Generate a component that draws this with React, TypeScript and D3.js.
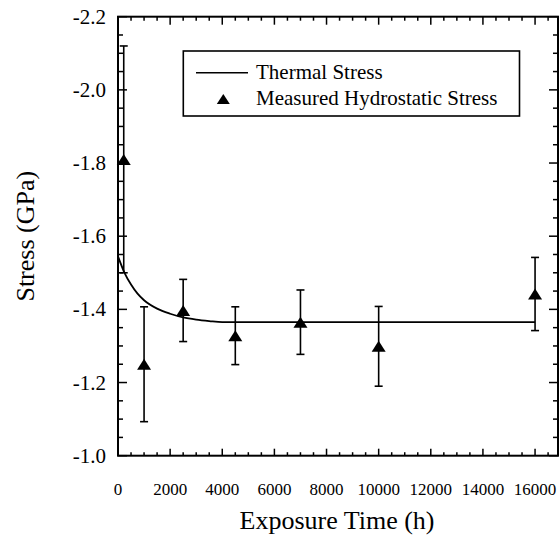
import React from "react";
import * as d3 from "d3";

const measuredTime = [220, 1000, 2500, 4500, 7000, 10000, 16000];
const measuredStress = [-1.81, -1.25, -1.397, -1.328, -1.365, -1.299, -1.442];
const measuredError = [0.31, 0.157, 0.085, 0.079, 0.088, 0.109, 0.1];

const thermalTime = [0, 250, 500, 750, 1000, 1500, 2000, 2500, 3000, 3500, 4000, 16000];
const thermalStress = [-1.545, -1.5, -1.468, -1.443, -1.425, -1.402, -1.388, -1.378, -1.372, -1.368, -1.365, -1.365];

const xTickValues = [0, 2000, 4000, 6000, 8000, 10000, 12000, 14000, 16000];
const yTickValues = [-2.2, -2.0, -1.8, -1.6, -1.4, -1.2, -1.0];

const xLabel = "Exposure Time (h)";
const yLabel = "Stress (GPa)";
const legendLine = "Thermal Stress";
const legendMarker = "Measured Hydrostatic Stress";

const W = 559;
const H = 538;
const left = 118;
const right = 558;
const top = 16.7;
const bottom = 455.7;
const FONT = "Liberation Serif, Times New Roman, Times, DejaVu Serif, serif";

export default function App() {
  const x = d3.scaleLinear().domain([0, 16880]).range([left, right]);
  const y = d3.scaleLinear().domain([-2.2, -1.0]).range([top, bottom]);

  const xMinor = d3.range(0, 16880, 500);
  const yMinor = d3.range(0, 25).map((i) => -2.2 + i * 0.05);

  const thermal = thermalTime.map((t, i) => [t, thermalStress[i]] as [number, number]);
  const line = d3
    .line<[number, number]>()
    .x((d) => x(d[0]))
    .y((d) => y(d[1]))
    .curve(d3.curveMonotoneX);

  const tri = (cx: number, cy: number, w = 14, h = 11) =>
    `M${cx - w / 2},${cy + h / 2} L${cx + w / 2},${cy + h / 2} L${cx},${cy - h / 2} Z`;

  const capW = 4;
  const ts = { fontFamily: FONT } as React.CSSProperties;

  return (
    <svg width={W} height={H} style={{ position: "absolute", left: 0, top: 0, background: "#fff" }}>
      <rect x={0} y={0} width={W} height={H} fill="#fff" />
      <g stroke="#000" strokeWidth={1.5}>
        {xMinor.map((v) => {
          const major = v % 2000 === 0;
          return (
            <g key={"xt" + v}>
              <line x1={x(v)} x2={x(v)} y1={bottom} y2={bottom - (major ? 7 : 3.5)} />
              <line x1={x(v)} x2={x(v)} y1={top} y2={top + (major ? 8 : 4)} />
            </g>
          );
        })}
        {yMinor.map((v, i) => {
          const major = i % 4 === 0;
          return (
            <g key={"yt" + i}>
              <line x1={left} x2={left + (major ? 9 : 5)} y1={y(v)} y2={y(v)} />
              <line x1={right} x2={right - (major ? 9 : 5)} y1={y(v)} y2={y(v)} />
            </g>
          );
        })}
      </g>
      <rect x={left} y={top} width={right - left} height={bottom - top} fill="none" stroke="#000" strokeWidth={2} />
      <path d={line(thermal) || ""} fill="none" stroke="#000" strokeWidth={1.8} />
      <g stroke="#000" strokeWidth={1.6}>
        {measuredTime.map((t, i) => {
          const cx = x(t);
          const y1 = y(measuredStress[i] - measuredError[i]);
          const y2 = y(measuredStress[i] + measuredError[i]);
          return (
            <g key={"eb" + i}>
              <line x1={cx} x2={cx} y1={y1} y2={y2} />
              <line x1={cx - capW} x2={cx + capW} y1={y1} y2={y1} />
              <line x1={cx - capW} x2={cx + capW} y1={y2} y2={y2} />
            </g>
          );
        })}
      </g>
      {measuredTime.map((t, i) => (
        <path key={"m" + i} d={tri(x(t), y(measuredStress[i]))} fill="#000" />
      ))}
      {xTickValues.map((v) => (
        <text key={"xl" + v} x={x(v)} y={495} textAnchor="middle" style={ts} fontSize={17}>
          {v}
        </text>
      ))}
      {yTickValues.map((v) => (
        <text key={"yl" + v} x={106} y={y(v) + 7} textAnchor="end" style={ts} fontSize={21}>
          {v.toFixed(1)}
        </text>
      ))}
      <text x={(left + right) / 2 - 1} y={529} textAnchor="middle" style={ts} fontSize={26}>
        {xLabel}
      </text>
      <text
        transform={`translate(34, ${(top + bottom) / 2}) rotate(-90)`}
        textAnchor="middle"
        style={ts}
        fontSize={26}
      >
        {yLabel}
      </text>
      <rect x={183.3} y={51} width={336.2} height={65} fill="#fff" stroke="#000" strokeWidth={1.6} />
      <line x1={196} x2={248} y1={72.7} y2={72.7} stroke="#000" strokeWidth={1.6} />
      <text x={256} y={78.5} style={ts} fontSize={21}>
        {legendLine}
      </text>
      <path d={tri(223.3, 99, 13, 10)} fill="#000" />
      <text x={256} y={105} style={ts} fontSize={21}>
        {legendMarker}
      </text>
    </svg>
  );
}
